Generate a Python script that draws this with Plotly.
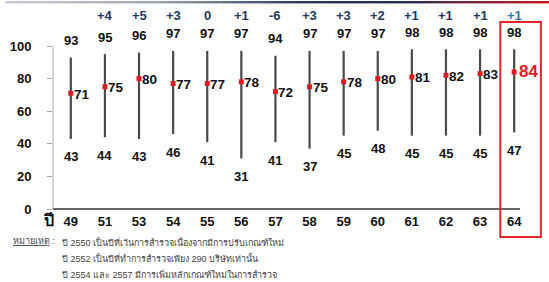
import plotly.graph_objects as go

# ---------------- data ----------------
years = ["49", "51", "53", "54", "55", "56", "57", "58", "59", "60", "61", "62", "63", "64"]
max_vals = [93, 95, 96, 97, 97, 97, 94, 97, 97, 97, 98, 98, 98, 98]
mean_vals = [71, 75, 80, 77, 77, 78, 72, 75, 78, 80, 81, 82, 83, 84]
min_vals = [43, 44, 43, 46, 41, 31, 41, 37, 45, 48, 45, 45, 45, 47]
diff_labels = ["", "+4", "+5", "+3", "0", "+1", "-6", "+3", "+3", "+2", "+1", "+1", "+1", "+1"]
y_ticks = [0, 20, 40, 60, 80, 100]
notes_title = "หมายเหตุ"
notes = [
    "ปี 2550 เป็นปีที่เว้นการสำรวจเนื่องจากมีการปรับเกณฑ์ใหม่",
    "ปี 2552 เป็นปีที่ทำการสำรวจเพียง 290 บริษัทเท่านั้น",
    "ปี 2554 และ 2557 มีการเพิ่มหลักเกณฑ์ใหม่ในการสำรวจ",
]

# ---------------- layout geometry ----------------
W, H = 549, 282
L, R, T, B = 48, 19, 10, 70
pw, ph = W - L - R, H - T - B
PXU = 1.63            # pixels per y unit
Y0PX = 209            # pixel row of y=0
def px(x):  # pixel -> paper x
    return (x - L) / pw
def py(y):  # pixel -> paper y
    return (H - B - y) / ph

FONT = "Liberation Sans, Arial, sans-serif"
idx = list(range(len(years)))
last = len(years) - 1

fig = go.Figure()

# range lines
lx, ly = [], []
for i in idx:
    lx += [i, i, None]
    ly += [min_vals[i], max_vals[i], None]
fig.add_trace(go.Scatter(x=lx, y=ly, mode="lines",
                         line=dict(color="#4a4a4a", width=2.2),
                         hoverinfo="skip", showlegend=False))
# mean markers
fig.add_trace(go.Scatter(x=idx, y=mean_vals, mode="markers",
                         marker=dict(symbol="square", size=5, color="#e01b24"),
                         showlegend=False))

ann = []
for i in idx:
    ann.append(dict(x=i, y=max_vals[i], text=f"<b>{max_vals[i]}</b>", showarrow=False,
                    yshift=17, font=dict(family=FONT, size=13, color="#111")))
    ann.append(dict(x=i, y=min_vals[i], text=f"<b>{min_vals[i]}</b>", showarrow=False,
                    yshift=-18, font=dict(family=FONT, size=13, color="#111")))
    if i == last:
        ann.append(dict(x=i, y=mean_vals[i], text=f"<b>{mean_vals[i]}</b>", showarrow=False,
                        xanchor="left", xshift=3, yshift=1,
                        font=dict(family=FONT, size=17, color="#e01b24")))
    else:
        ann.append(dict(x=i, y=mean_vals[i], text=f"<b>{mean_vals[i]}</b>", showarrow=False,
                        xanchor="left", xshift=1, yshift=-1,
                        font=dict(family=FONT, size=13.5, color="#111")))
    if diff_labels[i]:
        ann.append(dict(x=i, y=py(15), yref="paper", yanchor="middle", xanchor="center",
                        text=f"<b>{diff_labels[i]}</b>", showarrow=False,
                        font=dict(family=FONT, size=13,
                                  color="#2e75b6" if i == last else "#1f3a5f")))

# "ปี" label
ann.append(dict(x=px(43), y=py(220), xref="paper", yref="paper", xanchor="center",
                yanchor="middle", text="<b>ปี</b>",
                showarrow=False, font=dict(family=FONT, size=16, color="#111")))
# notes
ann.append(dict(x=px(6), y=py(242), xref="paper", yref="paper", xanchor="left",
                yanchor="middle", text=f"<u>{notes_title}</u> :", showarrow=False,
                font=dict(family=FONT, size=9, color="#444")))
for k, t in enumerate(notes):
    ann.append(dict(x=px(55), y=py(242 + 16 * k), xref="paper", yref="paper", xanchor="left",
                    yanchor="middle", text=t, showarrow=False,
                    font=dict(family=FONT, size=9, color="#444")))

shapes = []
# y axis line
shapes.append(dict(type="line", xref="paper", yref="y", x0=0, x1=0, y0=0, y1=100,
                   line=dict(color="#aaaaaa", width=1)))
# baseline
shapes.append(dict(type="line", xref="paper", yref="y", x0=0, x1=px(520), y0=0, y1=0,
                   line=dict(color="#666666", width=2)))
# red highlight box
shapes.append(dict(type="rect", xref="paper", yref="paper", x0=px(500), x1=px(541),
                   y0=py(237), y1=py(22), line=dict(color="#e3262b", width=2)))
# top gradient rule
stops = [(0, (200, 203, 210)), (150, (160, 168, 182)), (300, (40, 56, 90)),
         (400, (30, 45, 85)), (470, (120, 40, 60)), (549, (200, 20, 30))]
nseg = 60
for s in range(nseg):
    xa, xb = W * s / nseg, W * (s + 1) / nseg
    xm = (xa + xb) / 2
    c = stops[-1][1]
    for j in range(len(stops) - 1):
        if stops[j][0] <= xm <= stops[j + 1][0]:
            t = (xm - stops[j][0]) / (stops[j + 1][0] - stops[j][0])
            c = tuple(int(stops[j][1][m] + t * (stops[j + 1][1][m] - stops[j][1][m])) for m in range(3))
            break
    shapes.append(dict(type="rect", xref="paper", yref="paper", x0=px(xa), x1=px(xb + 0.6),
                       y0=py(3.4), y1=py(1), fillcolor=f"rgb({c[0]},{c[1]},{c[2]})",
                       line=dict(width=0)))

xr0 = -18 / 34.46
xr1 = last + 16 / 34.46
yr0 = -(H - B - Y0PX) / PXU
yr1 = (Y0PX - T) / PXU
fig.update_layout(
    width=W, height=H, margin=dict(l=L, r=R, t=T, b=B),
    paper_bgcolor="white", plot_bgcolor="white",
    annotations=ann, shapes=shapes,
    xaxis=dict(range=[xr0, xr1], tickvals=idx, ticktext=[f"<b>{y}</b>" for y in years],
               showgrid=False, zeroline=False, showline=False, ticks="",
               tickfont=dict(family=FONT, size=13, color="#111")),
    yaxis=dict(range=[yr0, yr1],
               tickvals=y_ticks, ticktext=[f"<b>{v}</b>" for v in y_ticks],
               showgrid=False, zeroline=False, showline=False,
               ticks="outside", ticklen=5, tickcolor="#aaaaaa", tickwidth=1,
               ticklabelstandoff=13,
               tickfont=dict(family=FONT, size=13, color="#111")),
)
fig.write_html("out.html", config={"displayModeBar": False},
               post_script="document.body.style.margin='0';")
